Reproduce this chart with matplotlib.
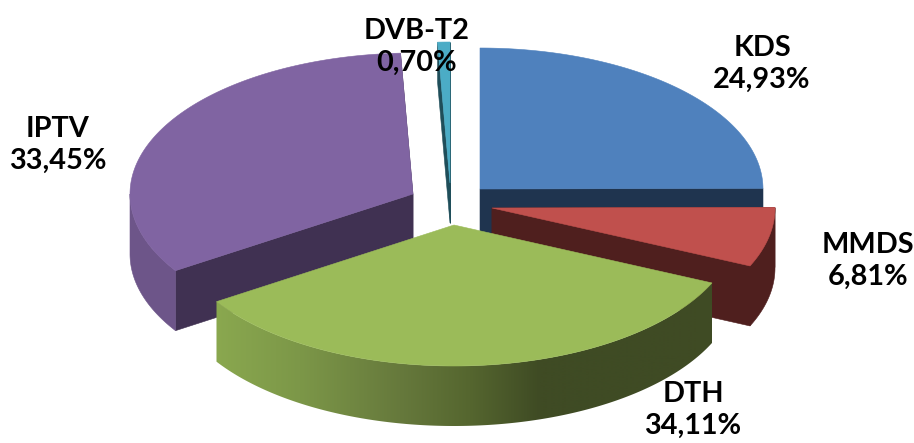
import numpy as np
import matplotlib
matplotlib.use("Agg")
import matplotlib.pyplot as plt
from matplotlib.colors import to_rgb
from matplotlib.patches import Polygon

labels = ["KDS", "MMDS", "DTH", "IPTV", "DVB-T2"]
values = [24.93, 6.81, 34.11, 33.45, 0.70]

top_colors = ["#4F81BD", "#C0504D", "#9BBB59", "#8064A2", "#4BACC6"]
wall_colors = ["#1F344F", "#4F1F1E", "#3F4B24", "#403152", "#1F4E5A"]
outer_colors = ["#1F344F", "#4F1F1E", "#3F4B24", "#6D5589", "#1F4E5A"]

# position of each exploded slice (tip of the wedge, pixels)
tips = [(480, 189), (492, 208), (454, 225), (413, 194), (450, 183)]
depths = [60, 60, 60, 60, 40]
label_pos = [(762, 64), (868, 261), (693, 410), (58, 145), (417, 47)]

RX = 283
RY = 141
# DTH side gets lighter toward the left
grad_x = [216, 300, 400, 470, 540, 712]
grad_c = ["#8AA84F", "#7C9748", "#66793C", "#55662F", "#3F4B24", "#3F4B24"]

plt.rcParams["font.family"] = ["Lato", "DejaVu Sans"]

fig = plt.figure(figsize=(9.14, 4.43), dpi=100)
ax = fig.add_axes([0, 0, 1, 1])

ends = np.cumsum(values) / sum(values) * 360
starts = np.r_[0, ends[:-1]]


def rim(i, deg):
    t = np.radians(deg)
    return tips[i][0] + RX * np.sin(t), tips[i][1] - RY * np.cos(t)


def poly(xs, ys, c, z):
    ax.fill(xs, ys, facecolor=c, edgecolor=c, lw=0.4, zorder=z)


# back to front
order = [4, 3, 0, 1, 2]
for z, i in enumerate(order):
    z = z * 10 + 1
    cx, cy = tips[i]
    d = depths[i]

    # cut faces (DTH has none that show)
    if i != 2:
        for deg in (starts[i], ends[i]):
            x, y = rim(i, deg)
            poly([cx, x, x, cx], [cy, y, y + d, cy + d], wall_colors[i], z)

    # outer wall, only the front half shows
    a = max(starts[i], 90)
    b = min(ends[i], 270)
    if b > a:
        th = np.linspace(a, b, int((b - a) * 3) + 2)
        xs, ys = rim(i, th)
        wx = np.r_[xs, xs[::-1]]
        wy = np.r_[ys, ys[::-1] + d]
        if i == 2:
            gx = np.arange(grad_x[0], grad_x[-1] + 1)
            rgb = np.array([to_rgb(c) for c in grad_c])
            img = np.stack([np.interp(gx, grad_x, rgb[:, k]) for k in range(3)], axis=1)[None, :, :]
            im = ax.imshow(img, extent=(wx.min(), wx.max(), wy.max(), wy.min()),
                           aspect="auto", zorder=z + 1)
            clip = Polygon(np.c_[wx, wy], closed=True, transform=ax.transData)
            im.set_clip_path(clip)
        else:
            poly(wx, wy, outer_colors[i], z + 1)

    # top of the slice
    th = np.linspace(starts[i], ends[i], 200)
    xs, ys = rim(i, th)
    poly(np.r_[cx, xs], np.r_[cy, ys], top_colors[i], z + 2)

for name, v, (x, y) in zip(labels, values, label_pos):
    txt = name + "\n" + f"{v:.2f}".replace(".", ",") + "%"
    ax.text(x, y, txt, ha="center", va="center", fontsize=20.8, fontweight="bold",
            color="black", linespacing=1.3, zorder=100)

ax.set_xlim(0, 914)
ax.set_ylim(443, 0)
ax.axis("off")

fig.savefig("out.png", dpi=100)
